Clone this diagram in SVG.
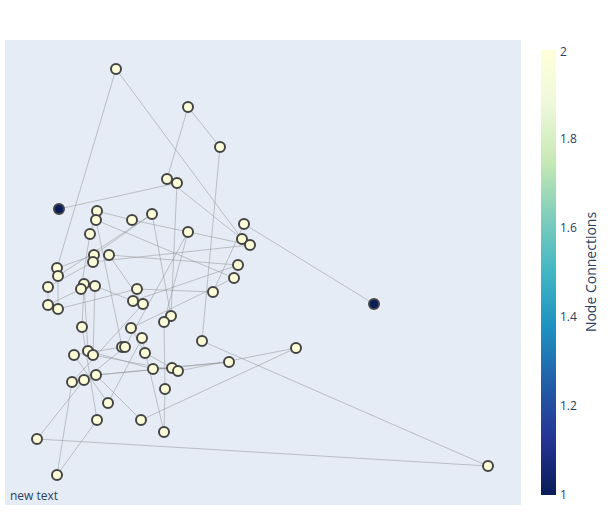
<svg xmlns="http://www.w3.org/2000/svg" width="613" height="525" viewBox="0 0 613 525">
<defs>
<linearGradient id="cb" x1="0" y1="1" x2="0" y2="0">
<stop offset="0" stop-color="rgb(8,29,88)"/>
<stop offset="0.125" stop-color="rgb(37,52,148)"/>
<stop offset="0.25" stop-color="rgb(34,94,168)"/>
<stop offset="0.375" stop-color="rgb(29,145,192)"/>
<stop offset="0.5" stop-color="rgb(65,182,196)"/>
<stop offset="0.625" stop-color="rgb(127,205,187)"/>
<stop offset="0.75" stop-color="rgb(199,233,180)"/>
<stop offset="0.875" stop-color="rgb(237,248,217)"/>
<stop offset="1" stop-color="rgb(255,255,217)"/>
</linearGradient>
<style>
.e{stroke:#888;stroke-width:0.5;fill:none;opacity:0.9}
.n{fill:rgb(255,255,217);stroke:#444;stroke-width:2}
.d{fill:rgb(8,29,88);stroke:#444;stroke-width:2}
.t{font-family:"Open Sans","Liberation Sans",Arial,sans-serif;font-size:12px;fill:#2a3f5f}
.ti{font-family:"Open Sans","Liberation Sans",Arial,sans-serif;font-size:14px;fill:#2a3f5f}
</style>
</defs>
<rect x="0" y="0" width="613" height="525" fill="#fff"/>
<rect x="5" y="40" width="516" height="465" fill="#E5ECF6"/>
<g id="edges">
<line class="e" x1="116" y1="69" x2="57" y2="268"/>
<line class="e" x1="116" y1="69" x2="242" y2="239"/>
<line class="e" x1="188" y1="107" x2="220" y2="147"/>
<line class="e" x1="188" y1="107" x2="167" y2="179"/>
<line class="e" x1="220" y1="147" x2="202" y2="341"/>
<line class="e" x1="59" y1="209" x2="177" y2="183"/>
<line class="e" x1="167" y1="179" x2="242" y2="239"/>
<line class="e" x1="177" y1="183" x2="171" y2="316"/>
<line class="e" x1="244" y1="224" x2="374" y2="304"/>
<line class="e" x1="244" y1="224" x2="213" y2="292"/>
<line class="e" x1="213" y1="292" x2="137" y2="289"/>
<line class="e" x1="137" y1="289" x2="58" y2="309"/>
<line class="e" x1="202" y1="341" x2="488" y2="466"/>
<line class="e" x1="37" y1="439" x2="488" y2="466"/>
<line class="e" x1="296" y1="348" x2="141" y2="420"/>
<line class="e" x1="296" y1="348" x2="178" y2="371"/>
<line class="e" x1="229" y1="362" x2="153" y2="369"/>
<line class="e" x1="229" y1="362" x2="96" y2="375"/>
<line class="e" x1="96" y1="375" x2="141" y2="420"/>
<line class="e" x1="165" y1="389" x2="164" y2="432"/>
<line class="e" x1="165" y1="389" x2="164" y2="322"/>
<line class="e" x1="57" y1="475" x2="97" y2="420"/>
<line class="e" x1="57" y1="475" x2="72" y2="382"/>
<line class="e" x1="37" y1="439" x2="84" y2="380"/>
<line class="e" x1="97" y1="211" x2="132" y2="220"/>
<line class="e" x1="132" y1="220" x2="250" y2="245"/>
<line class="e" x1="152" y1="214" x2="94" y2="255"/>
<line class="e" x1="152" y1="214" x2="171" y2="316"/>
<line class="e" x1="96" y1="220" x2="234" y2="278"/>
<line class="e" x1="96" y1="220" x2="122" y2="347"/>
<line class="e" x1="90" y1="234" x2="81" y2="289"/>
<line class="e" x1="90" y1="234" x2="97" y2="211"/>
<line class="e" x1="188" y1="232" x2="125" y2="347"/>
<line class="e" x1="188" y1="232" x2="164" y2="322"/>
<line class="e" x1="109" y1="255" x2="238" y2="265"/>
<line class="e" x1="93" y1="262" x2="250" y2="245"/>
<line class="e" x1="94" y1="255" x2="57" y2="268"/>
<line class="e" x1="93" y1="262" x2="48" y2="287"/>
<line class="e" x1="109" y1="255" x2="143" y2="304"/>
<line class="e" x1="238" y1="265" x2="133" y2="301"/>
<line class="e" x1="234" y1="278" x2="131" y2="328"/>
<line class="e" x1="95" y1="286" x2="133" y2="301"/>
<line class="e" x1="95" y1="286" x2="93" y2="355"/>
<line class="e" x1="48" y1="287" x2="48" y2="305"/>
<line class="e" x1="48" y1="305" x2="81" y2="289"/>
<line class="e" x1="58" y1="276" x2="58" y2="309"/>
<line class="e" x1="58" y1="276" x2="152" y2="214"/>
<line class="e" x1="143" y1="304" x2="72" y2="382"/>
<line class="e" x1="82" y1="327" x2="84" y2="284"/>
<line class="e" x1="82" y1="327" x2="97" y2="420"/>
<line class="e" x1="142" y1="338" x2="164" y2="432"/>
<line class="e" x1="142" y1="338" x2="108" y2="403"/>
<line class="e" x1="122" y1="347" x2="74" y2="355"/>
<line class="e" x1="125" y1="347" x2="84" y2="380"/>
<line class="e" x1="93" y1="355" x2="178" y2="371"/>
<line class="e" x1="88" y1="351" x2="84" y2="284"/>
<line class="e" x1="88" y1="351" x2="153" y2="369"/>
<line class="e" x1="145" y1="353" x2="131" y2="328"/>
<line class="e" x1="145" y1="353" x2="172" y2="368"/>
<line class="e" x1="74" y1="355" x2="108" y2="403"/>
<line class="e" x1="96" y1="375" x2="172" y2="368"/>
</g>
<g id="n1"><circle class="n" cx="116" cy="69" r="5"/></g>
<g id="n2"><circle class="n" cx="188" cy="107" r="5"/></g>
<g id="n3"><circle class="n" cx="220" cy="147" r="5"/></g>
<g id="n4"><circle class="n" cx="167" cy="179" r="5"/></g>
<g id="n5"><circle class="n" cx="177" cy="183" r="5"/></g>
<g id="n6"><circle class="d" cx="59" cy="209" r="5"/></g>
<g id="n7"><circle class="n" cx="97" cy="211" r="5"/></g>
<g id="n8"><circle class="n" cx="96" cy="220" r="5"/></g>
<g id="n9"><circle class="n" cx="132" cy="220" r="5"/></g>
<g id="n10"><circle class="n" cx="152" cy="214" r="5"/></g>
<g id="n11"><circle class="n" cx="244" cy="224" r="5"/></g>
<g id="n12"><circle class="n" cx="90" cy="234" r="5"/></g>
<g id="n13"><circle class="n" cx="188" cy="232" r="5"/></g>
<g id="n14"><circle class="n" cx="242" cy="239" r="5"/></g>
<g id="n15"><circle class="n" cx="250" cy="245" r="5"/></g>
<g id="n16"><circle class="n" cx="94" cy="255" r="5"/></g>
<g id="n17"><circle class="n" cx="93" cy="262" r="5"/></g>
<g id="n18"><circle class="n" cx="109" cy="255" r="5"/></g>
<g id="n19"><circle class="n" cx="57" cy="268" r="5"/></g>
<g id="n20"><circle class="n" cx="58" cy="276" r="5"/></g>
<g id="n21"><circle class="n" cx="238" cy="265" r="5"/></g>
<g id="n22"><circle class="n" cx="234" cy="278" r="5"/></g>
<g id="n23"><circle class="n" cx="48" cy="287" r="5"/></g>
<g id="n24"><circle class="n" cx="84" cy="284" r="5"/></g>
<g id="n25"><circle class="n" cx="81" cy="289" r="5"/></g>
<g id="n26"><circle class="n" cx="95" cy="286" r="5"/></g>
<g id="n27"><circle class="n" cx="137" cy="289" r="5"/></g>
<g id="n28"><circle class="n" cx="213" cy="292" r="5"/></g>
<g id="n29"><circle class="n" cx="48" cy="305" r="5"/></g>
<g id="n30"><circle class="n" cx="58" cy="309" r="5"/></g>
<g id="n31"><circle class="n" cx="133" cy="301" r="5"/></g>
<g id="n32"><circle class="n" cx="143" cy="304" r="5"/></g>
<g id="n33"><circle class="n" cx="171" cy="316" r="5"/></g>
<g id="n34"><circle class="n" cx="164" cy="322" r="5"/></g>
<g id="n35"><circle class="d" cx="374" cy="304" r="5"/></g>
<g id="n36"><circle class="n" cx="82" cy="327" r="5"/></g>
<g id="n37"><circle class="n" cx="131" cy="328" r="5"/></g>
<g id="n38"><circle class="n" cx="142" cy="338" r="5"/></g>
<g id="n39"><circle class="n" cx="202" cy="341" r="5"/></g>
<g id="n40"><circle class="n" cx="122" cy="347" r="5"/></g>
<g id="n41"><circle class="n" cx="125" cy="347" r="5"/></g>
<g id="n42"><circle class="n" cx="88" cy="351" r="5"/></g>
<g id="n43"><circle class="n" cx="93" cy="355" r="5"/></g>
<g id="n44"><circle class="n" cx="74" cy="355" r="5"/></g>
<g id="n45"><circle class="n" cx="145" cy="353" r="5"/></g>
<g id="n46"><circle class="n" cx="296" cy="348" r="5"/></g>
<g id="n47"><circle class="n" cx="229" cy="362" r="5"/></g>
<g id="n48"><circle class="n" cx="153" cy="369" r="5"/></g>
<g id="n49"><circle class="n" cx="172" cy="368" r="5"/></g>
<g id="n50"><circle class="n" cx="178" cy="371" r="5"/></g>
<g id="n51"><circle class="n" cx="96" cy="375" r="5"/></g>
<g id="n52"><circle class="n" cx="84" cy="380" r="5"/></g>
<g id="n53"><circle class="n" cx="72" cy="382" r="5"/></g>
<g id="n54"><circle class="n" cx="165" cy="389" r="5"/></g>
<g id="n55"><circle class="n" cx="108" cy="403" r="5"/></g>
<g id="n56"><circle class="n" cx="141" cy="420" r="5"/></g>
<g id="n57"><circle class="n" cx="97" cy="420" r="5"/></g>
<g id="n58"><circle class="n" cx="164" cy="432" r="5"/></g>
<g id="n59"><circle class="n" cx="37" cy="439" r="5"/></g>
<g id="n60"><circle class="n" cx="57" cy="475" r="5"/></g>
<g id="n61"><circle class="n" cx="488" cy="466" r="5"/></g>
<g id="colorbar">
<rect x="541" y="50" width="15" height="445" fill="url(#cb)"/>
<text class="t" x="560" y="499">1</text>
<text class="t" x="560" y="410">1.2</text>
<text class="t" x="560" y="321">1.4</text>
<text class="t" x="560" y="232">1.6</text>
<text class="t" x="560" y="143">1.8</text>
<text class="t" x="560" y="56">2</text>
<text class="ti" transform="translate(596,272) rotate(-90)" text-anchor="middle">Node Connections</text>
</g>
<text class="t" x="10" y="500">new text</text>
</svg>
